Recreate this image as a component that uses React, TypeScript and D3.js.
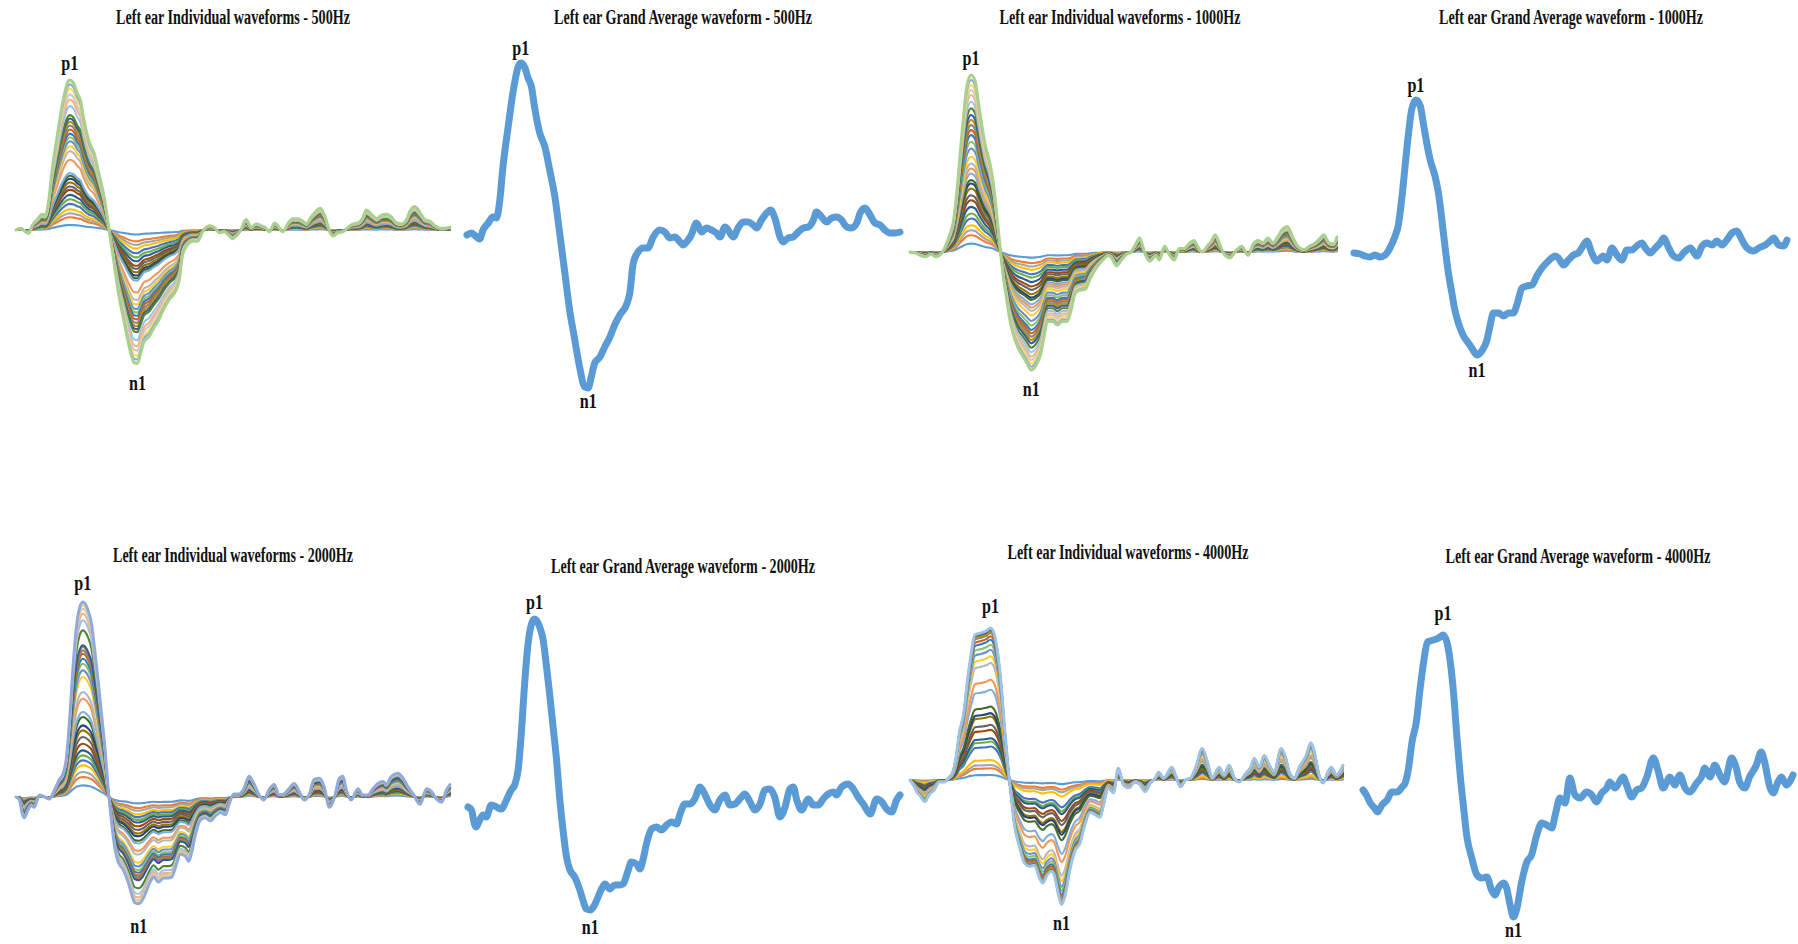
import React from "react";
import * as d3 from "d3";

// grand average waveforms, [time (ms), amplitude]
const ga500: [number, number][] = [
  [0, 0], [1, 0.2], [2.2, -0.2], [2.9, -0.4], [3.7, 0.5], [4.9, 1.2], [6, 1.8], [6.8, 1.7], [7.5, 3.2],
  [8.3, 6.8], [9.5, 10.8], [10.6, 14.2], [11.8, 16.8], [12.4, 17.2], [13.3, 16.8], [14.1, 15.7], [14.9, 14.8],
  [15.6, 12.8], [16.8, 10.2], [18, 8.8], [19.1, 6.5], [20.3, 3.8], [21.4, 0.2], [22.6, -3.8], [23.7, -7.5],
  [24.9, -10.5], [26, -13.2], [27.2, -15.2], [28, -15.3], [28.7, -14.2], [29.5, -12.8], [30.7, -12.2],
  [31.8, -11.2], [33, -10.2], [34.1, -9], [35.3, -8], [36.8, -7], [37.6, -5.8], [38.4, -2.8], [39.5, -1.7],
  [40.7, -1.3], [41.8, -1.3], [43, -0.2], [44.5, 0.5], [45.7, 0.3], [46.8, -0.3], [48, -0.2], [49.2, -0.7],
  [49.9, -1], [50.7, -0.7], [51.8, 0], [53, 1.2], [54.2, 0.3], [55.3, 0.7], [56.5, 0.5], [57.6, 0.2],
  [58.4, -0.2], [59.6, 0.8], [60.3, 0.5], [61.5, -0.2], [62.6, 0.7], [63.8, 1.3], [64.9, 1.3], [66.1, 1],
  [66.9, 0.7], [68, 1.5], [69.2, 2.2], [70.1, 2.5], [71.1, 1.7], [72.3, -0.2], [73, -0.7], [74.2, -0.3],
  [75.3, -0.2], [76.5, 0.3], [77.7, 0.7], [78.8, 0.8], [80, 1.5], [80.7, 2.3], [81.9, 1.8], [83.1, 1.3],
  [84.2, 1.7], [85.4, 1.8], [86.5, 1.5], [87.7, 0.8], [88.8, 0.7], [90, 1.2], [90.8, 2.2], [91.9, 2.7],
  [93.1, 2], [94.2, 1.2], [95.4, 1], [96.5, 0.5], [97.7, 0.2], [98.8, 0.2], [100, 0.3],
];

const ga1000: [number, number][] = [
  [0, 0], [1.4, -0.1], [2.5, -0.3], [3.7, -0.4], [4.9, -0.2], [6, -0.4], [7.2, -0.2], [8.3, 0.5], [9.5, 1.7],
  [10.2, 2.7], [11, 5.3], [11.8, 8.7], [12.6, 12], [13.3, 14.3], [14.3, 15.3], [15.3, 14.7], [16, 13],
  [16.8, 11], [17.6, 9.3], [18.7, 7.7], [19.5, 6], [20.3, 3.3], [21, 0.7], [21.8, -2], [22.6, -4],
  [23.3, -5.7], [24.1, -7], [25.3, -8.3], [26.4, -9], [27.2, -9.5], [28.4, -10.2], [29.5, -9.8], [30.7, -8.7],
  [31.4, -7.3], [32.2, -6], [33.4, -6], [34.5, -6.3], [35.7, -6], [36.8, -6], [37.6, -5.2], [38.8, -3.5],
  [39.9, -3.3], [41.1, -3.2], [42.2, -2.3], [43.4, -1.5], [44.9, -0.8], [46.5, -0.3], [47.2, -0.5],
  [48.4, -1.2], [49.5, -0.7], [50.7, -0.2], [51.8, 0], [52.6, 0.5], [53.8, 1.2], [54.9, 0], [56.1, -0.8],
  [57.6, -0.3], [58.4, -0.7], [59.6, 0.5], [60.7, -0.2], [61.9, -0.7], [63, 0.3], [64.2, 0.3], [65.3, 0.7],
  [66.5, 1], [67.3, 0.5], [68.4, 0], [69.6, 0.5], [70.7, 1], [71.5, 1.5], [72.7, 0.5], [73.8, -0.3],
  [75, -0.5], [76.1, 0], [77.7, 0.5], [79.2, -0.3], [80.4, 0.7], [81.5, 1], [82.7, 0.8], [83.8, 1.2],
  [85, 0.8], [86.1, 1.3], [87.3, 2], [88.4, 2.2], [89.6, 1.3], [90.8, 0.5], [92.3, 0.2], [93.5, 0.5],
  [95, 0.8], [96.1, 1.2], [96.9, 1.5], [98.1, 0.8], [99.2, 0.7], [100, 1.3],
];

const ga2000: [number, number][] = [
  [0, 0], [0.8, -0.3], [1.5, -1.7], [1.9, -2], [2.7, -1.3], [3.5, -0.8], [4.2, -1], [5.4, 0.2], [6.6, 0],
  [7.7, -0.2], [8.9, 0.7], [10, 1.7], [10.8, 2.2], [11.6, 3.7], [12.4, 7.7], [13.1, 12.3], [13.9, 16.3],
  [14.7, 18.3], [15.4, 18.8], [16.6, 18], [17.4, 16.7], [18.1, 14.3], [18.9, 11.3], [19.7, 8], [20.5, 4.7],
  [21.2, 1], [22, -2.3], [22.8, -5], [23.6, -6.3], [24.7, -7], [25.9, -8.3], [26.6, -9.3], [27.4, -10.2],
  [28.3, -10.3], [29.3, -9.8], [30.1, -9], [30.9, -8.2], [31.7, -7.7], [32.8, -8.2], [34, -7.8], [35.1, -7.8],
  [35.9, -7.7], [37.1, -6.3], [37.8, -5.5], [39, -5.7], [39.8, -6.2], [40.5, -5.3], [41.3, -3.7], [42.5, -2.2],
  [43.6, -2], [44.8, -2.3], [46, -1.8], [47.1, -1.5], [48.3, -1.7], [49, -0.8], [50.2, 0.3], [51.4, 0.3],
  [52.5, 0.8], [53.7, 2], [54.8, 1.3], [56, 0.2], [57.1, -0.3], [58.3, 0.7], [59.5, 1.2], [60.6, 0.2],
  [61.8, 0.3], [62.9, 0.8], [64.1, 1.3], [65.3, 0.5], [66.4, -0.3], [67.6, 0.3], [68.7, 1.7], [69.9, 1.8],
  [71, 1], [72.2, -1], [73.4, 0], [74.5, 1.8], [75.3, 2], [76.1, 0.7], [77.2, -0.3], [78.8, 0.8], [79.9, 0.2],
  [81.1, 0.2], [82.2, 0.8], [83.4, 1.3], [84.6, 1.5], [85.3, 1.2], [86.5, 2], [88, 2.3], [89.2, 1.8],
  [90.3, 1], [91.5, 0.3], [93.1, -0.7], [94.6, 0.8], [95.8, 0.5], [96.9, -0.2], [98.1, -0.5], [99.2, 0.7],
  [100, 1.2],
];

const ga4000: [number, number][] = [
  [0, 0], [0.8, -0.5], [1.7, -1.3], [2.5, -1.7], [3.4, -2.2], [4.4, -1.5], [5.6, -1], [6.7, -0.2], [7.9, -0.2],
  [9.1, 0.3], [9.8, 0.7], [10.6, 2.2], [11.4, 4.8], [12.4, 6.8], [13.3, 10.2], [14.1, 12.8], [15, 14.8],
  [16.4, 15], [17.6, 15.2], [18.6, 15.5], [19.5, 14.8], [20.3, 12.8], [21.1, 9.5], [21.8, 5.5], [22.6, 1.5],
  [23.4, -1.8], [24.1, -4.5], [25.3, -6.8], [26.5, -8.5], [27.6, -8.8], [28.8, -8.7], [29.9, -10], [30.7, -10.5],
  [31.5, -9.8], [32.7, -9.3], [33.4, -9.8], [34.2, -11.5], [35, -12.7], [35.8, -11.8], [36.9, -9.2],
  [38.1, -7.2], [39.2, -6.5], [40.4, -4.5], [41.6, -3.3], [42.7, -3.5], [43.9, -3.8], [44.7, -2.5],
  [45.8, -0.8], [47, -1.3], [48.1, 1.2], [49.3, -0.5], [50.5, -0.8], [52, -0.2], [53.2, -0.5], [54.3, -1.2],
  [55.5, -0.3], [56.7, 0.2], [57.4, 0.8], [58.6, 0.2], [60.5, 1.3], [61.3, 0.5], [62.5, -0.7], [63.6, 0],
  [64.8, 0.2], [66, 1.3], [67.5, 3.2], [68.7, 1.8], [69.8, 0.2], [71.4, 1.3], [72.5, 0.5], [73.7, 1.5],
  [74.9, 0.2], [76, -0.2], [77.6, 0.7], [78.7, 1.3], [79.5, 2.2], [80.7, 1.3], [81.8, 2.5], [83, 1.5],
  [84.1, 0.8], [85.7, 3.2], [86.8, 2.2], [87.6, 0.8], [88.8, 0.2], [89.9, 1.3], [91.5, 2.5], [92.6, 3.8],
  [93.4, 2.8], [94.6, 0.3], [95.4, -0.3], [96.5, 0.8], [97.3, 1.3], [98.5, 0.5], [99.2, 0.8], [100, 1.5],
];

// relative amplitude of each subject (individual panels are stacked lines)
const subj500 = [1.0, 1.53, 0.8, 0.8, 1.07, 0.93, 0.87, 1.0, 0.67, 0.8, 0.73, 0.6, 0.53, 2.67, 1.67, 1.0, 1.0, 0.8,
  0.73, 0.8, 0.8, 0.73, 0.67, 0.67, 1.8, 1.33, 1.0, 1.13, 0.87, 0.87];
const subj1000 = [1.67, 1.67, 1.0, 1.0, 1.33, 1.0, 1.33, 1.33, 1.0, 1.33, 1.0, 0.67, 1.33, 1.0, 1.0, 1.33, 1.67,
  1.33, 1.33, 1.0, 1.0, 1.0, 1.0, 1.33, 1.33, 1.33, 1.0, 1.0, 1.0, 1.0];
const subj2000 = [2.33, 1.67, 1.0, 1.33, 1.0, 1.0, 1.0, 1.33, 1.33, 1.33, 1.0, 1.67, 1.0, 2.67, 1.33, 3.0, 1.33,
  1.33, 1.0, 1.0, 0.67, 0.67, 0.33, 3.0, 2.0, 1.33, 1.0, 0.67, 0.67];
const subj4000 = [1.0, 1.33, 0.67, 1.0, 2.67, 1.0, 0.67, 1.67, 1.0, 1.67, 0.67, 1.33, 3.33, 2.0, 3.33, 1.33, 1.33,
  1.0, 1.0, 0.67, 0.67, 0.33, 0.33, 0.2, 0.13];

const seriesColors = [
  "#5B9BD5", "#ED7D31", "#A5A5A5", "#FFC000", "#4472C4", "#70AD47",
  "#255E91", "#9E480E", "#636363", "#997300", "#264478", "#43682B",
  "#7CAFDD", "#F1975A", "#B7B7B7", "#FFCD33", "#698ED0", "#8CC168",
  "#327DC2", "#D26012", "#848484", "#BF9000", "#335AA1", "#548235",
  "#9DC3E6", "#F4B183", "#C9C9C9", "#FFD966", "#8FAADC", "#A9D18E",
];

const gaColor = "#5B9BD5";
const font = "'Liberation Serif', 'Times New Roman', serif";

type Panel = {
  kind: "ind" | "avg";
  freq: number;
  data: [number, number][];
  subj?: number[];
  x0: number; x1: number; base: number; top?: number;
  tx: number; ty: number; tw: number;
  pDy: number; nDy: number;
};

const panels: Panel[] = [
  { kind: "ind", freq: 500, data: ga500, subj: subj500, x0: 16, x1: 450, base: 230, top: 80, tx: 233, ty: 24, tw: 234, pDy: -10, nDy: 27 },
  { kind: "avg", freq: 500, data: ga500, x0: 467, x1: 900, base: 235, tx: 683, ty: 24, tw: 258, pDy: -8, nDy: 20 },
  { kind: "ind", freq: 1000, data: ga1000, subj: subj1000, x0: 910, x1: 1337, base: 252, top: 75, tx: 1120, ty: 24, tw: 241, pDy: -10, nDy: 26 },
  { kind: "avg", freq: 1000, data: ga1000, x0: 1354, x1: 1787, base: 253, tx: 1571, ty: 24, tw: 264, pDy: -8, nDy: 22 },
  { kind: "ind", freq: 2000, data: ga2000, subj: subj2000, x0: 16, x1: 450, base: 797, top: 602, tx: 233, ty: 562, tw: 240, pDy: -12, nDy: 29 },
  { kind: "avg", freq: 2000, data: ga2000, x0: 468, x1: 900, base: 807, tx: 683, ty: 573, tw: 264, pDy: -10, nDy: 24 },
  { kind: "ind", freq: 4000, data: ga4000, subj: subj4000, x0: 910, x1: 1343, base: 780, top: 628, tx: 1128, ty: 559, tw: 241, pDy: -15, nDy: 25 },
  { kind: "avg", freq: 4000, data: ga4000, x0: 1363, x1: 1793, base: 790, tx: 1578, ty: 563, tw: 265, pDy: -15, nDy: 20 },
];

const Label = ({ x, y, text, w, size }: { x: number; y: number; text: string; w: number; size: number }) => (
  <text x={x} y={y} textAnchor="middle" fontFamily={font} fontWeight="bold" fontSize={size}
    textLength={w} lengthAdjust="spacingAndGlyphs" fill="#111">{text}</text>
);

const IndividualPanel = ({ p }: { p: Panel }) => {
  const subj = p.subj!;
  const keys = subj.map((_, i) => "s" + i);
  const rows = p.data.map(([t, v]) => {
    const r: any = { t };
    subj.forEach((g, i) => (r["s" + i] = g * v));
    return r;
  });
  const series = d3.stack<any>().keys(keys).offset(d3.stackOffsetNone)(rows);
  const outer = series[series.length - 1];
  const maxV = d3.max(outer, (d) => d[1])!;
  const x = d3.scaleLinear().domain([0, 100]).range([p.x0, p.x1]);
  const y = d3.scaleLinear().domain([0, maxV]).range([p.base, p.top!]);
  const line = d3.line<any>().x((d) => x(d.data.t)).y((d) => y(d[1])).curve(d3.curveMonotoneX);
  const iMax = d3.maxIndex(outer, (d) => d[1]);
  const iMin = d3.minIndex(outer, (d) => d[1]);
  return (
    <g>
      {series.map((s, i) => (
        <path key={i} d={line(s)!} fill="none" stroke={seriesColors[i]}
          strokeWidth={i === series.length - 1 ? 3 : 2.1} strokeLinejoin="round" strokeLinecap="round" />
      ))}
      <Label x={x(rows[iMax].t)} y={y(outer[iMax][1]) + p.pDy} text="p1" w={17} size={22} />
      <Label x={x(rows[iMin].t)} y={y(outer[iMin][1]) + p.nDy} text="n1" w={17} size={22} />
    </g>
  );
};

const AveragePanel = ({ p }: { p: Panel }) => {
  const x = d3.scaleLinear().domain([0, 100]).range([p.x0, p.x1]);
  const y = d3.scaleLinear().domain([-20, 20]).range([p.base + 200, p.base - 200]);
  const line = d3.line<[number, number]>().x((d) => x(d[0])).y((d) => y(d[1])).curve(d3.curveMonotoneX);
  const iMax = d3.maxIndex(p.data, (d) => d[1]);
  const iMin = d3.minIndex(p.data, (d) => d[1]);
  return (
    <g>
      <path d={line(p.data)!} fill="none" stroke={gaColor} strokeWidth={7}
        strokeLinejoin="round" strokeLinecap="round" />
      <Label x={x(p.data[iMax][0])} y={y(p.data[iMax][1]) + p.pDy} text="p1" w={17} size={22} />
      <Label x={x(p.data[iMin][0])} y={y(p.data[iMin][1]) + p.nDy} text="n1" w={17} size={22} />
    </g>
  );
};

export default function App() {
  return (
    <svg width={1798} height={944} style={{ position: "absolute", left: 0, top: 0, background: "#fff" }}>
      <rect width={1798} height={944} fill="#fff" />
      {panels.map((p, i) => (
        <g key={i}>
          <Label x={p.tx} y={p.ty} w={p.tw} size={20}
            text={p.kind === "ind"
              ? `Left ear Individual waveforms - ${p.freq}Hz`
              : `Left ear Grand Average waveform - ${p.freq}Hz`} />
          {p.kind === "ind" ? <IndividualPanel p={p} /> : <AveragePanel p={p} />}
        </g>
      ))}
    </svg>
  );
}
